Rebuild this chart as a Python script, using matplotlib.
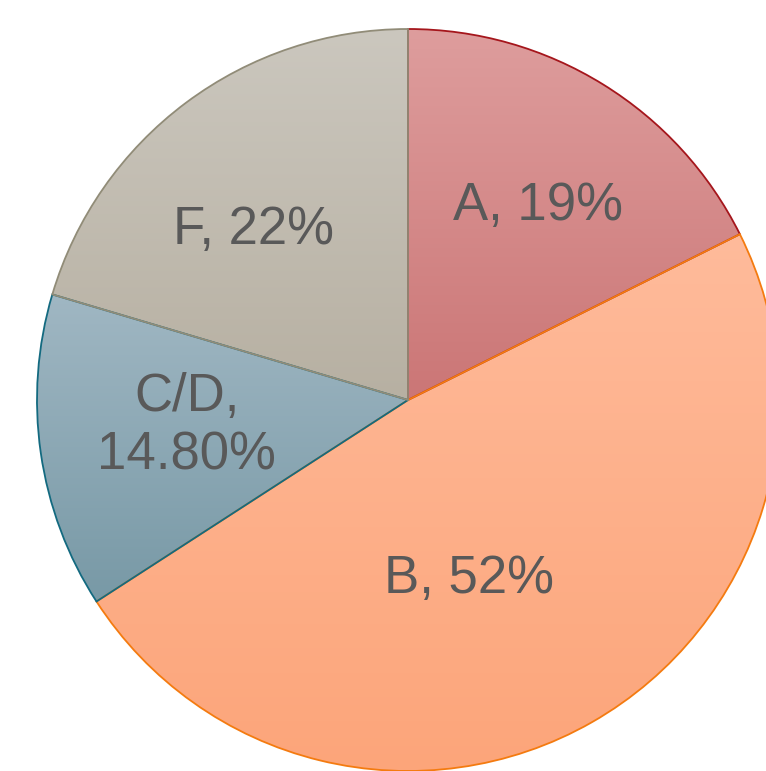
"""Pie chart of grade shares with gradient-filled wedges."""
import numpy as np
import matplotlib.pyplot as plt
from matplotlib.colors import LinearSegmentedColormap

plt.rcParams['font.family'] = ['Liberation Sans', 'DejaVu Sans']

labels = ["A", "B", "C/D", "F"]
value_text = ["19%", "52%", "14.80%", "22%"]
values = [19, 52, 14.8, 22]

# gradient top -> bottom, and edge colour per wedge
grad_top = ["#de9d9d", "#ffbb9b", "#a0b7c3", "#cbc7be"]
grad_bottom = ["#cb7676", "#fca57a", "#7899a6", "#b7b0a2"]
edges = ["#a5161c", "#f47b10", "#136a80", "#918c78"]

# label placement: radius (fraction of pie radius) and angle nudge in degrees
label_r = [0.63, 0.51, 0.60, 0.62]
label_shift = [-2, -11, -1.5, 5.5]
label_text = [f"{l}, {v}" for l, v in zip(labels, value_text)]
label_text[2] = f"{labels[2]},\n{value_text[2]}"

fig = plt.figure(figsize=(7.66, 7.71), dpi=100)
ax = fig.add_axes([0, 0, 1, 1])
R = 371.0

wedges, _ = ax.pie(values, startangle=90, counterclock=False, radius=1,
                   wedgeprops=dict(linewidth=1.3))
ax.set_xlim(-408 / R, (766 - 408) / R)
ax.set_ylim(-(771 - 400) / R, 400 / R)
ax.set_aspect('equal')
ax.axis('off')

grad = np.linspace(0, 1, 256).reshape(-1, 1)
for i, w in enumerate(wedges):
    ext = w.get_path().get_extents()
    cmap = LinearSegmentedColormap.from_list(f"g{i}", [grad_top[i], grad_bottom[i]])
    im = ax.imshow(grad, cmap=cmap, aspect='auto', origin='upper',
                   extent=[ext.x0, ext.x1, ext.y0, ext.y1], zorder=1,
                   interpolation='bilinear')
    im.set_clip_path(w)
    w.set_facecolor('none')
    w.set_edgecolor(edges[i])
    w.set_zorder(2)

    mid = np.deg2rad((w.theta1 + w.theta2) / 2 + label_shift[i])
    ax.text(label_r[i] * np.cos(mid), label_r[i] * np.sin(mid), label_text[i],
            ha='center', va='center', fontsize=38, color='#595959',
            linespacing=1.22, zorder=3)

fig.savefig("out.png", dpi=100)
